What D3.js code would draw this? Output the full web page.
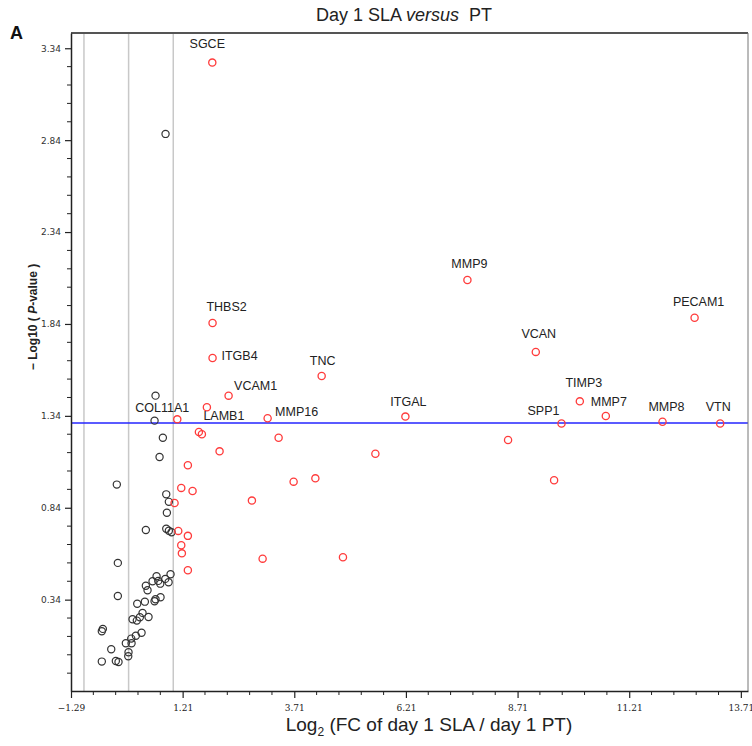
<!DOCTYPE html>
<html><head><meta charset="utf-8">
<script src="https://cdn.jsdelivr.net/npm/d3@7/dist/d3.min.js"></script>
<style>body{margin:0;background:#fff}svg{display:block}</style>
</head><body><svg id="c" width="752" height="746"></svg>
<script>
// ---- data ----
const labeledGenes = ["SGCE","THBS2","ITGB4","TNC","VCAM1","LAMB1","COL11A1","MMP16","ITGAL","MMP9","VCAN","PECAM1","TIMP3","MMP7","SPP1","MMP8","VTN"];
const labeledLog2FC = [1.874,1.880,1.880,4.323,2.239,1.753,1.090,3.113,6.198,7.587,9.118,12.674,10.104,10.686,9.694,11.956,13.247];
const labeledNegLogP = [3.262,1.845,1.655,1.557,1.450,1.387,1.321,1.327,1.336,2.079,1.688,1.874,1.419,1.339,1.298,1.308,1.298];

const upLog2FC = [8.497,9.528,5.526,1.574,1.641,3.359,2.037,1.327,1.179,1.432,4.182,3.695,2.761,1.029,1.112,1.327,1.179,1.193,3.001,4.800,1.327];
const upNegLogP = [1.209,0.990,1.134,1.252,1.240,1.221,1.147,1.071,0.948,0.931,1.000,0.982,0.879,0.866,0.714,0.687,0.636,0.592,0.563,0.571,0.500];

const otherLog2FC = [0.827,0.603,0.581,0.767,0.693,-0.264,0.843,0.901,0.857,0.386,0.843,0.901,0.962,-0.241,-0.241,0.939,0.821,0.895,0.626,0.536,0.386,0.664,0.709,0.424,0.715,0.603,0.581,0.364,0.193,0.312,0.446,0.252,0.088,0.184,0.290,0.162,0.059,-0.062,0.066,-0.577,-0.600,-0.389,-0.002,-0.008,-0.286,-0.226,-0.600];
const otherNegLogP = [2.874,1.450,1.314,1.221,1.116,0.966,0.913,0.872,0.813,0.719,0.726,0.715,0.707,0.540,0.360,0.478,0.453,0.435,0.467,0.440,0.416,0.442,0.427,0.391,0.353,0.342,0.331,0.329,0.318,0.268,0.246,0.244,0.233,0.226,0.160,0.144,0.128,0.103,0.103,0.181,0.168,0.070,0.054,0.032,0.006,0.001,0.003];

const xTickValues = [-1.29,1.21,3.71,6.21,8.71,11.21,13.71];
const xTickLabels = ["\u22121.29","1.21","3.71","6.21","8.71","11.21","13.71"];
const yTickValues = [0.34,0.84,1.34,1.84,2.34,2.84,3.34];
const yTickLabels = ["0.34","0.84","1.34","1.84","2.34","2.84","3.34"];
const foldLines = [-1,0,1];
const pThreshold = 1.301;

// label offsets (layout, px relative to point)
const labelOffsets = {
  SGCE:[-5,-14.5], THBS2:[14,-12], ITGB4:[27,2], TNC:[1,-11], VCAM1:[27,-6], LAMB1:[17,13],
  COL11A1:[-15,-7], MMP16:[29,-2.6], ITGAL:[3,-10.7], MMP9:[2,-12], VCAN:[3,-14], PECAM1:[4,-11.5],
  TIMP3:[4,-14], MMP7:[3,-10], SPP1:[-18,-8.4], MMP8:[4,-11], VTN:[-2,-13]
};

// ---- layout ----
const svg = d3.select("#c");
const L = 71, R = 748, T = 33, B = 691;
const x = d3.scaleLinear().domain([-1.29, 13.87]).range([L, R]);
const y = d3.scaleLinear().domain([-0.157, 3.423]).range([B, T]);

// fold change lines
svg.append("g").selectAll("line").data(foldLines).join("line")
  .attr("x1", d => x(d)).attr("x2", d => x(d)).attr("y1", T).attr("y2", B)
  .attr("stroke", "#c8c8c8").attr("stroke-width", 1.5);

// threshold line
svg.append("line").attr("x1", L).attr("x2", R).attr("y1", y(pThreshold)).attr("y2", y(pThreshold))
  .attr("stroke", "#2424ff").attr("stroke-width", 1.5);

// frame
svg.append("line").attr("x1", L).attr("x2", R).attr("y1", T).attr("y2", T).attr("stroke", "#555").attr("stroke-width", 2);
svg.append("line").attr("x1", R).attr("x2", R).attr("y1", T).attr("y2", B).attr("stroke", "#777").attr("stroke-width", 1);

// axes
const xMinor = d3.range(-1.29, 13.87, 0.5).filter(v => !xTickValues.some(t => Math.abs(t - v) < 1e-6));
const yMinor = d3.range(-0.06, 3.42, 0.1).filter(v => !yTickValues.some(t => Math.abs(t - v) < 1e-6));

const gx = svg.append("g").attr("transform", `translate(0,${B})`)
  .call(d3.axisBottom(x).tickValues(xTickValues).tickFormat((d, i) => xTickLabels[i]).tickSize(7).tickSizeOuter(0));
gx.select(".domain").attr("stroke", "#222").attr("stroke-width", 1.5);
gx.selectAll(".tick line").attr("stroke", "#222").attr("stroke-width", 1.2);
gx.selectAll(".tick text").attr("font-family", "'DejaVu Serif', serif").attr("font-size", 9).attr("fill", "#222").attr("dy", "1.1em");
svg.append("g").selectAll("line").data(xMinor).join("line")
  .attr("x1", d => x(d)).attr("x2", d => x(d)).attr("y1", B).attr("y2", B + 4)
  .attr("stroke", "#222").attr("stroke-width", 1);

const gy = svg.append("g").attr("transform", `translate(${L},0)`)
  .call(d3.axisLeft(y).tickValues(yTickValues).tickFormat((d, i) => yTickLabels[i]).tickSize(6).tickSizeOuter(0));
gy.select(".domain").attr("stroke", "#222").attr("stroke-width", 1.5);
gy.selectAll(".tick line").attr("stroke", "#222").attr("stroke-width", 1.2);
gy.selectAll(".tick text").attr("font-family", "'DejaVu Sans', sans-serif").attr("font-size", 9).attr("fill", "#333").attr("dx", "-1px");
svg.append("g").selectAll("line").data(yMinor).join("line")
  .attr("x1", L - 4).attr("x2", L).attr("y1", d => y(d)).attr("y2", d => y(d))
  .attr("stroke", "#222").attr("stroke-width", 1);

// points
const other = otherLog2FC.map((v, i) => [v, otherNegLogP[i]]);
const up = upLog2FC.map((v, i) => [v, upNegLogP[i]]);
const lab = labeledLog2FC.map((v, i) => [v, labeledNegLogP[i], labeledGenes[i]]);

svg.append("g").selectAll("circle").data(other).join("circle")
  .attr("cx", d => x(d[0])).attr("cy", d => y(d[1])).attr("r", 3.6)
  .attr("fill", "none").attr("stroke", "#333").attr("stroke-width", 1.2);
svg.append("g").selectAll("circle").data(up.concat(lab)).join("circle")
  .attr("cx", d => x(d[0])).attr("cy", d => y(d[1])).attr("r", 3.6)
  .attr("fill", "none").attr("stroke", "#ff3b3b").attr("stroke-width", 1.3);

svg.append("g").selectAll("text").data(lab).join("text")
  .attr("x", d => x(d[0]) + labelOffsets[d[2]][0])
  .attr("y", d => y(d[1]) + labelOffsets[d[2]][1])
  .attr("text-anchor", "middle")
  .attr("font-family", "'Liberation Sans', Arial, sans-serif").attr("font-size", 12.5).attr("fill", "#222")
  .text(d => d[2]);

// titles
const title = svg.append("text").attr("x", 404).attr("y", 21).attr("text-anchor", "middle")
  .attr("font-family", "'Liberation Sans', Arial, sans-serif").attr("font-size", 18).attr("fill", "#222");
title.append("tspan").text("Day 1 SLA ");
title.append("tspan").attr("font-style", "italic").text("versus");
title.append("tspan").text("\u00a0 PT");

svg.append("text").attr("x", 10).attr("y", 39).attr("font-family", "'Liberation Sans', Arial, sans-serif")
  .attr("font-size", 18).attr("font-weight", "bold").attr("fill", "#111").text("A");

const xl = svg.append("text").attr("x", 429).attr("y", 731).attr("text-anchor", "middle")
  .attr("font-family", "'Liberation Sans', Arial, sans-serif").attr("font-size", 19).attr("fill", "#222");
xl.append("tspan").text("Log");
xl.append("tspan").attr("font-size", 12).attr("dy", 5).text("2");
xl.append("tspan").attr("dy", -5).text(" (FC of day 1 SLA / day 1 PT)");

const yl = svg.append("text").attr("transform", "translate(37,317) rotate(-90)").attr("text-anchor", "middle")
  .attr("font-family", "'Liberation Sans', Arial, sans-serif").attr("font-size", 12).attr("font-weight", "bold").attr("fill", "#222");
yl.append("tspan").text("\u2212 Log10 ( ");
yl.append("tspan").attr("font-style", "italic").text("P");
yl.append("tspan").text("-value )");
</script></body></html>
